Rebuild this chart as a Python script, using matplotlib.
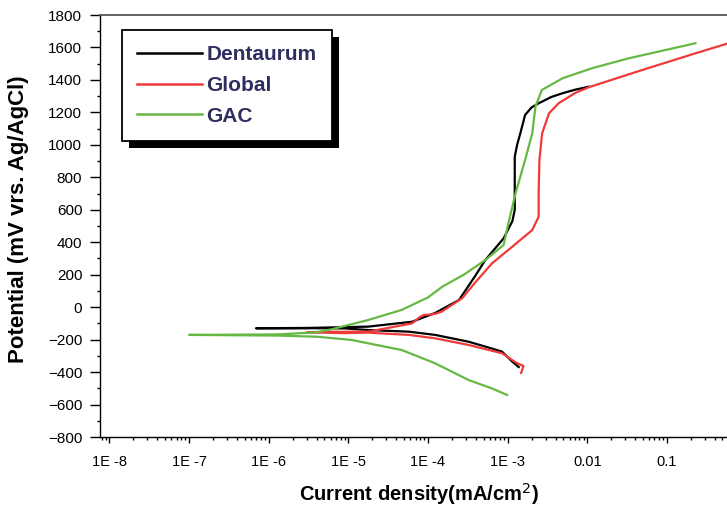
import numpy as np
import matplotlib
matplotlib.use("Agg")
import matplotlib.pyplot as plt
from matplotlib.ticker import LogLocator, FixedLocator, MultipleLocator, NullFormatter
from matplotlib.patches import Rectangle
from matplotlib.transforms import IdentityTransform

plt.rcParams['font.family'] = ['Liberation Sans', 'DejaVu Sans']

# ---- data: log10(current density, mA/cm2) and potential (mV) ----
dent_logi = [-2.86, -2.94, -3.07, -3.30, -3.49, -3.91, -4.24, -4.75, -5.04, -5.40, -6.16,
             -5.50, -4.75, -4.20, -3.91, -3.61, -3.41, -3.28, -3.05, -2.94, -2.91, -2.91,
             -2.91, -2.88, -2.84, -2.78, -2.70, -2.61, -2.45, -2.31, -2.15, -1.98]
dent_mv = [-369, -336, -274, -240, -213, -171, -151, -141, -131, -130, -130,
           -128, -120, -90, -36, 44, 190, 290, 424, 530, 600, 800,
           927, 1000, 1071, 1184, 1230, 1256, 1295, 1318, 1340, 1358]

glob_logi = [-2.83, -2.80, -2.86, -2.91, -3.07, -3.49, -3.91, -4.24, -4.75, -5.04, -5.52,
             -5.30, -4.75, -4.20, -4.10, -4.05, -3.95, -3.90, -3.83, -3.57, -3.41, -3.195,
             -2.94, -2.69, -2.61, -2.61, -2.60, -2.566, -2.48, -2.36, -2.15, -1.98, -1.31,
             -0.64, -0.20]
glob_mv = [-405, -362, -350, -336, -284, -233, -192, -171, -157, -160, -155,
           -152, -151, -100, -60, -48, -45, -40, -28, 55, 150, 270,
           373, 475, 557, 700, 907, 1071, 1194, 1256, 1320, 1355, 1461,
           1564, 1630]

gac_logi = [-3.006, -3.20, -3.49, -3.91, -4.33, -4.96, -5.40, -5.90, -7.00,
            -5.90, -5.40, -5.20, -4.75, -4.33, -4.00, -3.82, -3.55, -3.28, -3.05, -2.99,
            -2.90, -2.78, -2.69, -2.65, -2.57, -2.31, -1.94, -1.48, -0.64]
gac_mv = [-541, -500, -449, -346, -264, -202, -182, -175, -171,
          -168, -155, -135, -79, -17, 60, 126, 200, 290, 383, 517,
          701, 907, 1071, 1235, 1338, 1410, 1472, 1533, 1626]

series_names = ['Dentaurum', 'Global', 'GAC']
series_colors = ['#000000', '#f03a3a', '#66b844']

x_tick_vals = [1e-8, 1e-7, 1e-6, 1e-5, 1e-4, 1e-3, 1e-2, 1e-1]
x_tick_labels = ['1E -8', '1E -7', '1E -6', '1E -5', '1E -4', '1E -3', '0.01', '0.1']
y_ticks = list(range(-800, 1801, 200))

W, H = 727, 511
fig = plt.figure(figsize=(W / 100, H / 100), dpi=100)
ax = fig.add_axes([100 / W, 1 - 437 / H, 1 - 100 / W, (437 - 15) / H])

for lg, mv, name, col in zip([dent_logi, glob_logi, gac_logi],
                             [dent_mv, glob_mv, gac_mv],
                             series_names, series_colors):
    ax.plot(10 ** np.array(lg), mv, color=col, lw=1.6, label=name)

ax.set_xscale('log')
ax.set_xlim(7.6e-9, 0.57)
ax.set_ylim(-800, 1800)

ax.xaxis.set_major_locator(FixedLocator(x_tick_vals))
ax.set_xticklabels(x_tick_labels)
ax.xaxis.set_minor_locator(LogLocator(base=10, subs=np.arange(2, 10), numticks=30))
ax.xaxis.set_minor_formatter(NullFormatter())
ax.set_yticks(y_ticks)
ax.yaxis.set_minor_locator(MultipleLocator(100))

ax.tick_params(which='both', direction='out', width=1, colors='black')
ax.tick_params(axis='x', which='major', length=4.3, pad=9, labelsize=10.5)
ax.tick_params(axis='x', which='minor', length=2.2)
ax.tick_params(axis='y', which='major', length=7.2, pad=5.5, labelsize=11)
ax.tick_params(axis='y', which='minor', length=2.2)

ax.spines['right'].set_visible(False)
ax.spines['top'].set_color('#555555')
ax.spines['top'].set_linewidth(1.3)
ax.spines['left'].set_linewidth(1.0)
ax.spines['bottom'].set_linewidth(1.0)

ax.set_xlabel('Current density(mA/cm$^2$)', fontsize=14.5, fontweight='bold')
ax.set_ylabel('Potential (mV vrs. Ag/AgCl)', fontsize=16, fontweight='bold')
ax.xaxis.set_label_coords((419 - 100) / 627, (437 - 481) / 422)
ax.yaxis.set_label_coords((29 - 100) / 627, (437 - 219) / 422)

leg = ax.legend(loc='upper left', bbox_to_anchor=((122 - 100) / (W - 100), 1 - (30 - 15) / (437 - 15)),
                frameon=True, fancybox=False, borderaxespad=0, handlelength=3.1,
                handletextpad=0.24, labelspacing=0.57, borderpad=0.72, framealpha=1,
                prop={'weight': 'bold', 'size': 15})
leg.get_frame().set_edgecolor('black')
leg.get_frame().set_facecolor('white')
leg.get_frame().set_linewidth(1.3)
for t in leg.get_texts():
    t.set_color('#2e2e60')
for h in leg.get_lines():
    h.set_linewidth(1.8)

fig.canvas.draw()
bb = leg.get_window_extent()
sh = Rectangle((bb.x0 + 7, bb.y0 - 7), bb.width, bb.height, transform=IdentityTransform(),
               facecolor='black', edgecolor='none', zorder=leg.get_zorder() - 0.1, clip_on=False)
ax.add_artist(sh)

fig.savefig('out.png', dpi=100)
